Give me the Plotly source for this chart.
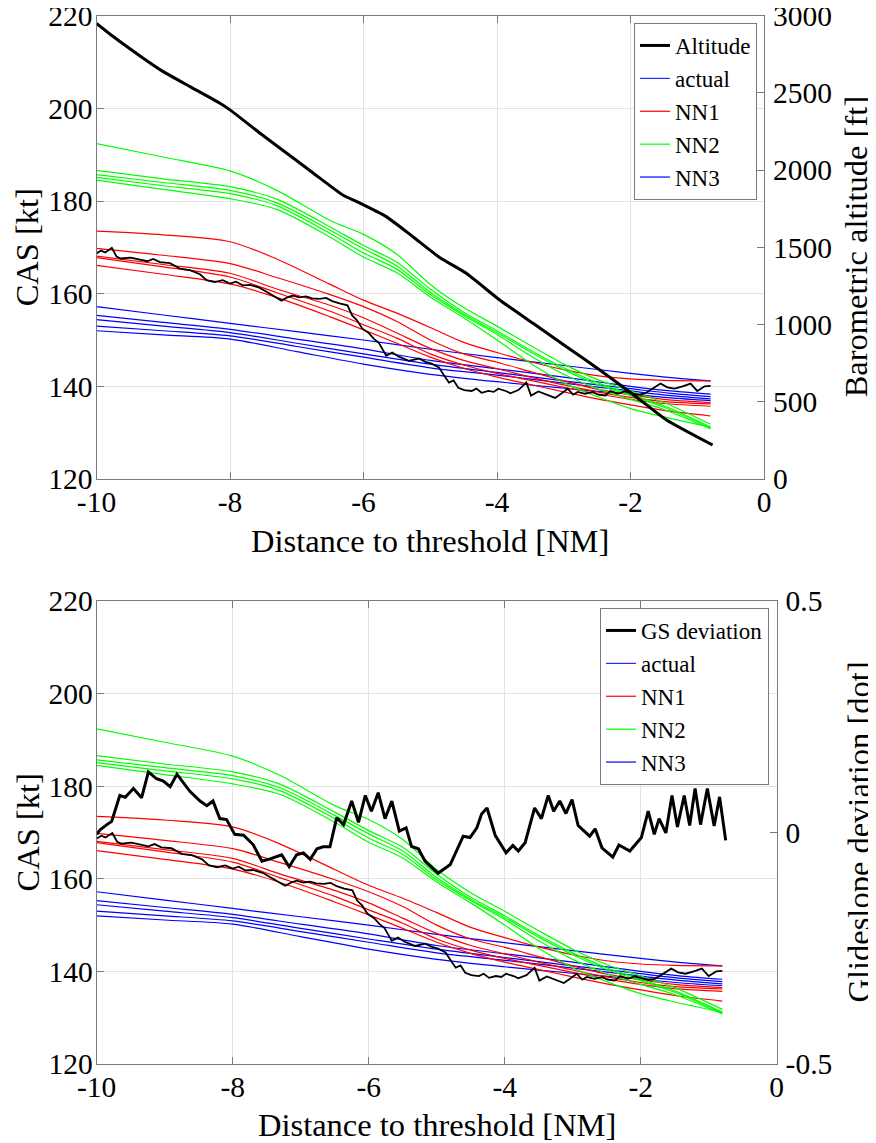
import plotly.graph_objects as go

# ---------------- data ----------------
# actual CAS (thin black, noisy)
actual_x = [-10.0, -9.93, -9.87, -9.77, -9.70, -9.64, -9.49, -9.34, -9.24, -9.15, -9.05, -8.90, -8.75, -8.60,
            -8.45, -8.35, -8.23, -8.11, -8.00, -7.91, -7.81, -7.70, -7.56, -7.44, -7.33, -7.23, -7.14, -7.06,
            -6.96, -6.86, -6.77, -6.66, -6.56, -6.47, -6.36, -6.24, -6.17, -6.10, -6.02, -5.92, -5.84, -5.77,
            -5.66, -5.57, -5.47, -5.32, -5.17, -5.07, -4.98, -4.87, -4.80, -4.72, -4.65, -4.58, -4.49, -4.38,
            -4.31, -4.23, -4.13, -4.05, -3.98, -3.87, -3.80, -3.68, -3.56, -3.49, -3.38, -3.26, -3.13, -3.04,
            -2.94, -2.86, -2.79, -2.68, -2.56, -2.49, -2.38, -2.30, -2.19, -2.09, -2.00, -1.89, -1.79, -1.67,
            -1.55, -1.45, -1.34, -1.22, -1.10, -1.00, -0.89, -0.80]
actual_cas = [168.7, 169.3, 168.9, 169.9, 168.0, 167.6, 167.8, 167.3, 167.0, 167.5, 166.8, 166.6, 165.4, 165.1,
              164.2, 162.9, 162.5, 162.9, 162.2, 162.6, 161.8, 161.9, 161.3, 160.3, 159.3, 158.5, 159.2, 159.6,
              159.2, 159.4, 159.0, 158.9, 159.1, 158.4, 157.9, 157.5, 155.3, 154.3, 152.5, 151.5, 150.2, 149.4,
              146.6, 147.3, 146.4, 145.5, 146.0, 145.3, 144.9, 144.1, 142.5, 140.8, 141.3, 139.7, 139.2, 139.0,
              139.5, 138.6, 139.0, 138.8, 139.5, 139.0, 138.5, 139.2, 140.8, 138.0, 138.9, 138.3, 137.5, 138.4,
              139.5, 138.2, 138.8, 138.4, 138.8, 138.2, 138.0, 139.0, 138.4, 138.9, 138.6, 138.2, 138.4, 139.5,
              140.6, 139.8, 139.5, 140.0, 140.6, 139.0, 140.0, 140.1]

# NN1 (red), NN2 (green) predictions
nn_x = [-10, -9, -8, -7.3, -6.5, -6, -5.5, -5, -4.5, -4, -3.5, -3, -2.5, -2, -1.5, -0.8]
nn1_1 = [173.5, 172.7, 171.2, 167.5, 162.0, 158.6, 155.8, 152.7, 149.5, 147.3, 145.3, 143.6, 142.3, 141.6, 141.3, 141.2]
nn1_2 = [169.8, 168.3, 166.5, 163.5, 159.8, 157.2, 154.0, 150.0, 147.0, 145.2, 143.2, 141.2, 139.4, 138.2, 137.2, 136.5]
nn1_3 = [168.1, 166.3, 164.4, 161.0, 157.5, 154.8, 151.5, 148.2, 145.6, 143.8, 142.0, 140.3, 138.8, 137.6, 136.7, 136.2]
nn1_4 = [167.8, 165.8, 163.6, 160.2, 156.2, 153.3, 150.4, 147.0, 144.6, 142.8, 141.3, 139.8, 138.4, 137.2, 136.3, 135.7]
nn1_5 = [166.1, 164.2, 162.1, 159.2, 155.0, 152.2, 149.3, 146.3, 143.9, 142.0, 140.4, 138.8, 137.3, 136.0, 134.8, 133.6]

nn2_1 = [192.4, 189.5, 186.5, 182.3, 175.8, 172.8, 168.5, 162.0, 157.0, 153.0, 148.8, 144.8, 141.5, 139.0, 136.5, 131.8]
nn2_2 = [186.6, 184.8, 183.1, 180.4, 174.4, 170.4, 166.8, 161.0, 156.0, 152.0, 147.8, 144.0, 140.8, 138.3, 135.8, 131.2]
nn2_3 = [185.7, 184.0, 182.3, 179.6, 173.7, 169.7, 166.0, 160.3, 155.6, 151.6, 147.4, 143.6, 140.4, 138.0, 135.5, 131.0]
nn2_4 = [185.1, 183.3, 181.6, 179.0, 173.0, 168.8, 165.3, 159.8, 155.3, 151.2, 146.6, 142.6, 139.5, 137.2, 135.0, 130.8]
nn2_5 = [184.5, 182.5, 180.5, 178.2, 172.2, 167.9, 164.5, 159.3, 154.8, 150.0, 145.0, 140.8, 137.8, 135.2, 133.4, 131.2]

# NN3 (blue) predictions
nn3_x = [-10, -9, -8, -7, -6, -5, -4, -3, -2, -1.4, -0.8]
nn3_1 = [157.2, 155.4, 153.6, 151.8, 150.0, 148.0, 146.2, 144.5, 142.8, 141.9, 141.2]
nn3_2 = [155.3, 153.8, 152.3, 150.2, 148.1, 145.6, 143.8, 142.0, 140.0, 139.0, 138.3]
nn3_3 = [154.4, 153.0, 151.6, 149.3, 147.0, 144.8, 143.0, 141.2, 139.5, 138.5, 137.8]
nn3_4 = [153.0, 152.0, 150.9, 148.6, 146.3, 144.0, 142.4, 140.7, 139.0, 138.0, 137.3]
nn3_5 = [152.0, 151.1, 150.2, 147.5, 144.8, 142.6, 141.0, 139.6, 138.3, 137.5, 136.9]

# barometric altitude (ft)
alt_x = [-10, -9.75, -9.3, -9.0, -8.6, -8.15, -8.0, -7.55, -7.25, -6.75, -6.31, -6.1, -5.66, -5.26, -4.86,
         -4.46, -3.96, -3.46, -2.96, -2.46, -1.97, -1.46, -0.77]
alt_ft = [2950, 2865, 2725, 2638, 2541, 2433, 2390, 2239, 2142, 1980, 1839, 1796, 1699, 1569, 1435,
          1332, 1159, 1008, 857, 706, 550, 382, 220]

# glideslope deviation (dot)
gs_x = [-10.0, -9.95, -9.85, -9.78, -9.66, -9.58, -9.46, -9.34, -9.24, -9.12, -9.02, -8.92, -8.82, -8.73,
        -8.63, -8.48, -8.38, -8.29, -8.19, -8.09, -7.97, -7.84, -7.70, -7.57, -7.45, -7.28, -7.17, -7.06,
        -6.96, -6.86, -6.76, -6.67, -6.57, -6.47, -6.37, -6.25, -6.15, -6.05, -5.96, -5.86, -5.76, -5.66,
        -5.55, -5.45, -5.37, -5.27, -5.17, -4.98, -4.80, -4.61, -4.51, -4.41, -4.34, -4.26, -4.14, -3.98,
        -3.88, -3.80, -3.70, -3.56, -3.46, -3.36, -3.28, -3.19, -3.10, -3.01, -2.92, -2.75, -2.67, -2.57,
        -2.41, -2.32, -2.16, -1.99, -1.89, -1.80, -1.73, -1.63, -1.54, -1.46, -1.36, -1.28, -1.20, -1.12,
        -1.02, -0.92, -0.84, -0.75]
gs_dev = [-0.004, 0.006, 0.017, 0.024, 0.080, 0.076, 0.095, 0.075, 0.131, 0.116, 0.111, 0.099, 0.126, 0.108,
          0.089, 0.068, 0.058, 0.068, 0.030, 0.028, -0.004, -0.006, -0.026, -0.062, -0.057, -0.048, -0.074, -0.048,
          -0.044, -0.058, -0.035, -0.031, -0.031, 0.032, 0.017, 0.068, 0.022, 0.080, 0.046, 0.086, 0.030, 0.068,
          0.003, 0.010, -0.030, -0.035, -0.062, -0.088, -0.069, -0.008, -0.011, 0.010, 0.040, 0.053, -0.006, -0.044,
          -0.028, -0.040, -0.022, 0.053, 0.030, 0.080, 0.046, 0.068, 0.041, 0.071, 0.015, -0.008, 0.008, -0.033,
          -0.053, -0.027, -0.040, -0.011, 0.046, -0.004, 0.030, -0.001, 0.080, 0.012, 0.080, 0.015, 0.095, 0.017,
          0.095, 0.014, 0.077, -0.017]

x_ticks = [-10, -8, -6, -4, -2, 0]
x_tick_text = ["-10", "-8", "-6", "-4", "-2", "0"]
cas_ticks = [120, 140, 160, 180, 200, 220]
alt_ticks = [0, 500, 1000, 1500, 2000, 2500, 3000]
gs_ticks = [-0.5, 0, 0.5]
gs_tick_text = ["-0.5", "0", "0.5"]

# ---------------- style ----------------
OFF = 8                     # page body margin of the browser
W, H = 876 - OFF, 1143 - OFF
FONT = "Liberation Serif"
TICK_SIZE = 29.5
LABEL_SIZE = 32.5
LEG_SIZE = 23
AXC = "#7a7a7a"
GRIDC = "#e3e3e3"
RED, GREEN, BLUE = "#ff0000", "#00ff00", "#0000ff"


def px_x(p):
    return (p - OFF) / W


def px_y(p):
    return 1 - (p - OFF) / H


fig = go.Figure()

red_sets = [nn1_1, nn1_2, nn1_3, nn1_4, nn1_5]
green_sets = [nn2_1, nn2_2, nn2_3, nn2_4, nn2_5]
blue_sets = [nn3_1, nn3_2, nn3_3, nn3_4, nn3_5]

panels = [("x", "y", "y2", "legend", "Altitude", alt_x, alt_ft),
          ("x2", "y3", "y4", "legend2", "GS deviation", gs_x, gs_dev)]

for xa, ya, ya2, leg, blackname, bx, by in panels:
    # legend-only entry "actual" (blue in the reference legend)
    fig.add_trace(go.Scatter(x=[None], y=[None], mode="lines", name="actual",
                             line=dict(color=BLUE, width=1), xaxis=xa, yaxis=ya,
                             legend=leg, legendrank=2, showlegend=True, hoverinfo="skip"))
    for i, ys in enumerate(blue_sets):
        fig.add_trace(go.Scatter(x=nn3_x, y=ys, mode="lines", name="NN3",
                                 line=dict(color=BLUE, width=1.2, shape="spline", smoothing=0.8),
                                 xaxis=xa, yaxis=ya, legend=leg, legendrank=5,
                                 legendgroup="nn3" + leg, showlegend=(i == 0)))
    for i, ys in enumerate(red_sets):
        fig.add_trace(go.Scatter(x=nn_x, y=ys, mode="lines", name="NN1",
                                 line=dict(color=RED, width=1.2, shape="spline", smoothing=0.8),
                                 xaxis=xa, yaxis=ya, legend=leg, legendrank=3,
                                 legendgroup="nn1" + leg, showlegend=(i == 0)))
    for i, ys in enumerate(green_sets):
        fig.add_trace(go.Scatter(x=nn_x, y=ys, mode="lines", name="NN2",
                                 line=dict(color=GREEN, width=1.2, shape="spline", smoothing=0.8),
                                 xaxis=xa, yaxis=ya, legend=leg, legendrank=4,
                                 legendgroup="nn2" + leg, showlegend=(i == 0)))
    fig.add_trace(go.Scatter(x=actual_x, y=actual_cas, mode="lines", name="actual CAS",
                             line=dict(color="black", width=1.8), xaxis=xa, yaxis=ya,
                             showlegend=False))
    black_shape = dict(shape="spline", smoothing=0.5) if blackname == "Altitude" else {}
    fig.add_trace(go.Scatter(x=bx, y=by, mode="lines", name=blackname,
                             line=dict(color="black", width=3, **black_shape), xaxis=xa, yaxis=ya2,
                             legend=leg, legendrank=1))

# domains in screen pixels
top_l, top_r, top_t, top_b = 96.5, 764.0, 15.7, 479.0
bot_l, bot_r, bot_t, bot_b = 96.7, 776.7, 601.0, 1064.0

tickfont = dict(family=FONT, size=TICK_SIZE, color="black")
common_x = dict(range=[-10, 0], tickvals=x_ticks, ticktext=x_tick_text, ticks="inside", ticklen=7,
                tickcolor=AXC, showline=True, linecolor=AXC, linewidth=1, mirror="ticks",
                showgrid=True, gridcolor=GRIDC, gridwidth=1, zeroline=False, tickfont=tickfont,
                ticklabelstandoff=-3, automargin=False, ticklabeloverflow="allow")
common_yl = dict(range=[120, 220], tickvals=cas_ticks, ticks="inside", ticklen=7, tickcolor=AXC,
                 showline=True, linecolor=AXC, linewidth=1, showgrid=True, gridcolor=GRIDC,
                 zeroline=False, tickfont=tickfont, ticklabelstandoff=-3, automargin=False,
                 ticklabeloverflow="allow")
common_yr = dict(ticks="inside", ticklen=7, tickcolor=AXC, showline=True, linecolor=AXC, linewidth=1,
                 showgrid=False, zeroline=False, tickfont=tickfont, side="right", ticklabelstandoff=2,
                 automargin=False, ticklabeloverflow="allow")

fig.update_layout(
    width=W, height=H, margin=dict(l=0, r=0, t=0, b=0, autoexpand=False),
    paper_bgcolor="white", plot_bgcolor="white",
    font=dict(family=FONT, color="black"),
    xaxis=dict(domain=[px_x(top_l), px_x(top_r)], anchor="y", **common_x),
    yaxis=dict(domain=[px_y(top_b), px_y(top_t)], anchor="x", **common_yl),
    yaxis2=dict(range=[0, 3000], tickvals=alt_ticks, overlaying="y", anchor="x", **common_yr),
    xaxis2=dict(domain=[px_x(bot_l), px_x(bot_r)], anchor="y3", **common_x),
    yaxis3=dict(domain=[px_y(bot_b), px_y(bot_t)], anchor="x2", **common_yl),
    yaxis4=dict(range=[-0.5, 0.5], tickvals=gs_ticks, ticktext=gs_tick_text, overlaying="y3",
                anchor="x2", **common_yr),
    legend=dict(x=px_x(757), y=px_y(23), xanchor="right", yanchor="top", bgcolor="white",
                bordercolor=AXC, borderwidth=1, font=dict(family=FONT, size=LEG_SIZE, color="black"),
                tracegroupgap=0, itemwidth=30),
    legend2=dict(x=px_x(769), y=px_y(608), xanchor="right", yanchor="top", bgcolor="white",
                 bordercolor=AXC, borderwidth=1, font=dict(family=FONT, size=LEG_SIZE, color="black"),
                 tracegroupgap=0, itemwidth=30),
)

labfont = dict(family=FONT, size=LABEL_SIZE, color="black")
ann = [
    dict(text="Distance to threshold [NM]", x=px_x((top_l + top_r) / 2), y=px_y(541)),
    dict(text="Distance to threshold [NM]", x=px_x((bot_l + bot_r) / 2), y=px_y(1125)),
    dict(text="CAS [kt]", x=px_x(27), y=px_y((top_t + top_b) / 2), textangle=-90),
    dict(text="CAS [kt]", x=px_x(27), y=px_y((bot_t + bot_b) / 2), textangle=-90),
    dict(text="Barometric altitude [ft]", x=px_x(856), y=px_y((top_t + top_b) / 2), textangle=-90),
    dict(text="Glideslope deviation [dot]", x=px_x(858), y=px_y((bot_t + bot_b) / 2), textangle=-90),
]
for a in ann:
    fig.add_annotation(xref="paper", yref="paper", showarrow=False, xanchor="center", yanchor="middle",
                       font=labfont, **a)

fig.write_html("out.html")
